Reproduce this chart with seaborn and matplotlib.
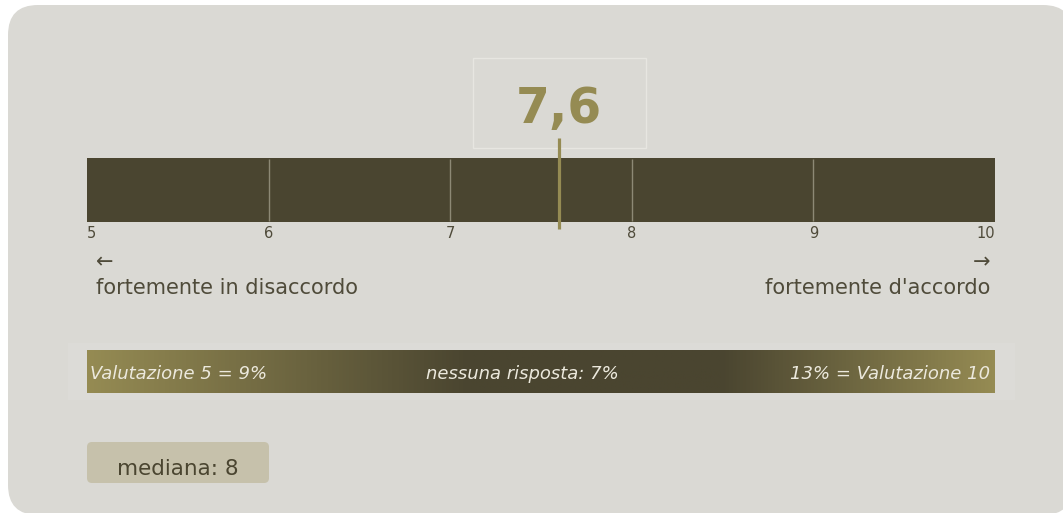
import numpy as np
import matplotlib
matplotlib.use('Agg')
import matplotlib.pyplot as plt
import seaborn as sns
from matplotlib.patches import FancyBboxPatch, Rectangle
from matplotlib.colors import LinearSegmentedColormap
import matplotlib.transforms as mtransforms

# dati
scala_min = 5
scala_max = 10
tick_valori = [5, 6, 7, 8, 9, 10]
tick_etichette = ['5', '6', '7', '8', '9', '10']
media = 7.6
media_testo = '7,6'
mediana = 8
etichetta_sinistra = 'fortemente in disaccordo'
etichetta_destra = "fortemente d'accordo"
quota_min = 9       # % valutazione 5
quota_nessuna = 7   # % nessuna risposta
quota_max = 13      # % valutazione 10

# colori
SFONDO = '#dad9d4'
SCURO = '#4a4530'
OLIVA = '#958b53'
TESTO = '#4f4b3a'
CREMA = '#ece9dd'

sns.set_theme(style='white')
plt.rcParams['font.family'] = ['DejaVu Sans']

W, H = 1063, 513
fig = plt.figure(figsize=(W / 100, H / 100), dpi=100)
fig.patch.set_facecolor('white')

# asse di sfondo in pixel
bg = fig.add_axes([0, 0, 1, 1])
bg.set_xlim(0, W)
bg.set_ylim(H, 0)
bg.axis('off')

# pannello arrotondato (esce un po' a destra)
bg.add_patch(FancyBboxPatch((8, 5), 1065, 510, boxstyle='round,pad=0,rounding_size=30',
                            fc=SFONDO, ec='none', clip_on=True))


def fig_box(x0, y0, x1, y1):
    return [x0 / W, 1 - y1 / H, (x1 - x0) / W, (y1 - y0) / H]


# barra principale
ax = fig.add_axes(fig_box(87, 158, 995, 222))
sns.barplot(x=[scala_max], y=[''], orient='h', color=SCURO, width=1.0,
            saturation=1, ax=ax, edgecolor='none')
ax.set_xlim(scala_min, scala_max)
ax.set_ylim(0.5, -0.5)
ax.axis('off')
for t in tick_valori[1:-1]:
    ax.vlines(t, 0.48, -0.48, color='#8d8975', lw=1)

trans = mtransforms.blended_transform_factory(ax.transData, bg.transData)
for t, lab in zip(tick_valori, tick_etichette):
    ha = 'left' if t == scala_min else ('right' if t == scala_max else 'center')
    ax.text(t, 238, lab, transform=trans, ha=ha, va='baseline',
            fontsize=10.5, color=TESTO)

# indicatore della media
ax.plot([media, media], [138, 229], transform=trans, color=OLIVA, lw=2.3,
        clip_on=False, solid_capstyle='butt')
bg.add_patch(Rectangle((473, 58), 173, 90, fc='none', ec='#e7e6e1', lw=1))
bg.text(559, 123, media_testo, ha='center', va='baseline', fontsize=35,
        fontweight='bold', color=OLIVA)

# etichette estremi
bg.text(96, 262, '\u2190', ha='left', va='center', fontsize=15, color=TESTO)
bg.text(990, 262, '\u2192', ha='right', va='center', fontsize=15, color=TESTO)
bg.text(96, 294, etichetta_sinistra, ha='left', va='baseline', fontsize=15, color=TESTO)
bg.text(990, 294, etichetta_destra, ha='right', va='baseline', fontsize=15, color=TESTO)

# barra sfumata delle quote
bg.add_patch(Rectangle((68, 343), 947, 57, fc='#dcdbd7', ec='none'))
cmap = LinearSegmentedColormap.from_list('sfumatura', [(0, OLIVA), (0.42, SCURO),
                                                      (0.7, SCURO), (1, OLIVA)])
gax = fig.add_axes(fig_box(87, 350, 995, 393))
gax.imshow(np.linspace(0, 1, 512)[None, :], aspect='auto', cmap=cmap,
           extent=[0, 1, 0, 1])
gax.axis('off')
# testi sopra la sfumatura (disegnati nell'asse gax, coordinate in pixel)
gax.text(90, 379, f'Valutazione 5 = {quota_min}%', transform=bg.transData,
         ha='left', va='baseline', fontsize=13, style='italic', color=CREMA)
gax.text(522, 379, f'nessuna risposta: {quota_nessuna}%', transform=bg.transData,
         ha='center', va='baseline', fontsize=13, style='italic', color=CREMA)
gax.text(990, 379, f'{quota_max}% = Valutazione 10', transform=bg.transData,
         ha='right', va='baseline', fontsize=13, style='italic', color=CREMA)

# mediana
bg.add_patch(FancyBboxPatch((87, 442), 182, 41, boxstyle='round,pad=0,rounding_size=5',
                            fc='#c6c1ab', ec='none'))
bg.text(178, 475, f'mediana: {mediana}', ha='center', va='baseline',
        fontsize=15.5, color=SCURO)

fig.savefig('out.png', dpi=100, facecolor=fig.get_facecolor())
